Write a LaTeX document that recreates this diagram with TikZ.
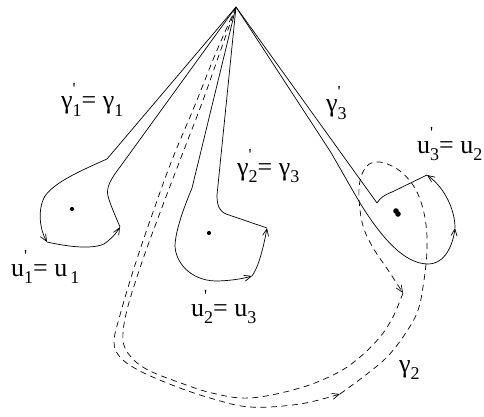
\documentclass[tikz,border=0pt]{standalone}
\usepackage{fontspec}
\setmainfont{Liberation Serif}
\usetikzlibrary{arrows.meta}
\definecolor{ink}{HTML}{000000}
\newcommand{\pri}[1]{\makebox[0pt][l]{\raisebox{0.55em}{\fontsize{17}{17}\selectfont\textquotesingle}}\raisebox{-0.3em}{\fontsize{18}{18}\selectfont #1}}
\newcommand{\sbs}[1]{\raisebox{-0.3em}{\fontsize{18}{18}\selectfont #1}}
\tikzset{
  % ---- loops around the punctures --------------------------------
  loopln/.style   = {draw=ink, line width=.7pt, line join=round},
  arrowend/.style = {-{Straight Barb[length=7pt,width=6pt]}},
  dashln/.style   = {draw=ink, line width=.7pt, dash pattern=on 6pt off 4.5pt},
  puncture/.style = {circle, fill=ink, inner sep=0pt, minimum size=4.2pt},
  % ---- labels ------------------------------------------------------
  lab/.style      = {font=\fontsize{26}{29}\selectfont, inner sep=0pt,
                     anchor=base west, text=ink},
}
\begin{document}
\begin{tikzpicture}[x=1pt,y=-1pt]
  \useasboundingbox (0,0) rectangle (484,417);
  \coordinate (P) at (236,7);
  % loop round u1
  \draw[loopln,arrowend] (P) -- (107,159) .. controls (80,171) and (55,182) .. (45,196)
        .. controls (37,210) and (40,230) .. (47,242);
  \draw[loopln,arrowend] (47,242) .. controls (65,246) and (90,250) .. (104,244)
        .. controls (110,240) and (116,234) .. (120,227);
  \draw[loopln] (120,227) .. controls (115,215) and (110,204) .. (108,196)
        .. controls (106,188) and (110,180) .. (120,167) -- (P);
  % loop round u2
  \draw[loopln] (P) -- (192,188) .. controls (185,205) and (176,228) .. (175,245)
        .. controls (175,262) and (190,280) .. (215,281);
  \draw[loopln,arrowend] (215,281) .. controls (228,281) and (242,279) .. (252,276);
  \draw[loopln,arrowend] (252,276) .. controls (258,268) and (263,250) .. (267,228);
  \draw[loopln] (267,228) -- (226,214) .. controls (219,211) and (217,205) .. (217,195) -- (P);
  % loop round u3
  \draw[loopln] (P) -- (330,151) .. controls (340,168) and (350,186) .. (360,203)
        .. controls (378,232) and (402,264) .. (428,264);
  \draw[loopln,arrowend] (428,264) .. controls (445,264) and (453,245) .. (455,228);
  \draw[loopln,arrowend] (455,228) .. controls (455,210) and (445,188) .. (427,175);
  \draw[loopln] (427,175) -- (392,192) .. controls (384,195) and (380,198) .. (377,203) -- (P);
  % the punctures
  \node[puncture] (u1) at (72,209) {};
  \node[puncture] (u2) at (209,233) {};
  \node[puncture,minimum size=5.6pt] (u3a) at (396,211) {};
  \node[puncture,minimum size=5.6pt] (u3b) at (398,214) {};
  % gamma_2, dashed
  \draw[dashln,arrowend] plot[smooth,tension=.6] coordinates {(P) (215,55) (195,105)
        (172,160) (152,215) (135,265) (120,315) (114,342) (120,357) (138,370)
        (172,385) (210,398) (250,407) (300,404) (340,394)};
  \draw[dashln,arrowend] plot[smooth,tension=.6] coordinates {(340,394) (367,374)
        (387,357) (403,337) (417,313) (423,287) (427,250) (425,218) (416,190)
        (400,171) (380,162) (366,167) (359,188) (362,222) (372,246) (388,270) (403,293)};
  \draw[dashln] plot[smooth,tension=.6] coordinates {(403,293) (393,317) (380,337)
        (360,357) (337,373) (300,388) (250,398) (212,393) (178,382) (148,370)
        (131,357) (123,340) (127,310) (142,262) (161,210) (182,155) (202,103)
        (219,55) (P)};
  % labels
  \node[lab] (l1) at (61,109) {γ\pri{1}= γ\sbs{1}};
  \node[lab] (m1) at (11,276) {u\pri{1}= u\hspace{3pt}\sbs{1}};
  \node[lab] (l2) at (237,175) {γ\pri{2}= γ\sbs{3}};
  \node[lab] (m2) at (191,316) {u\pri{2}= u\sbs{3}};
  \node[lab] (l3) at (326,112) {γ\pri{3}};
  \node[lab] (m3) at (417,153) {u\pri{3}= u\sbs{2}};
  \node[lab] (g2) at (399,372) {γ\sbs{2}};
\end{tikzpicture}
\end{document}
